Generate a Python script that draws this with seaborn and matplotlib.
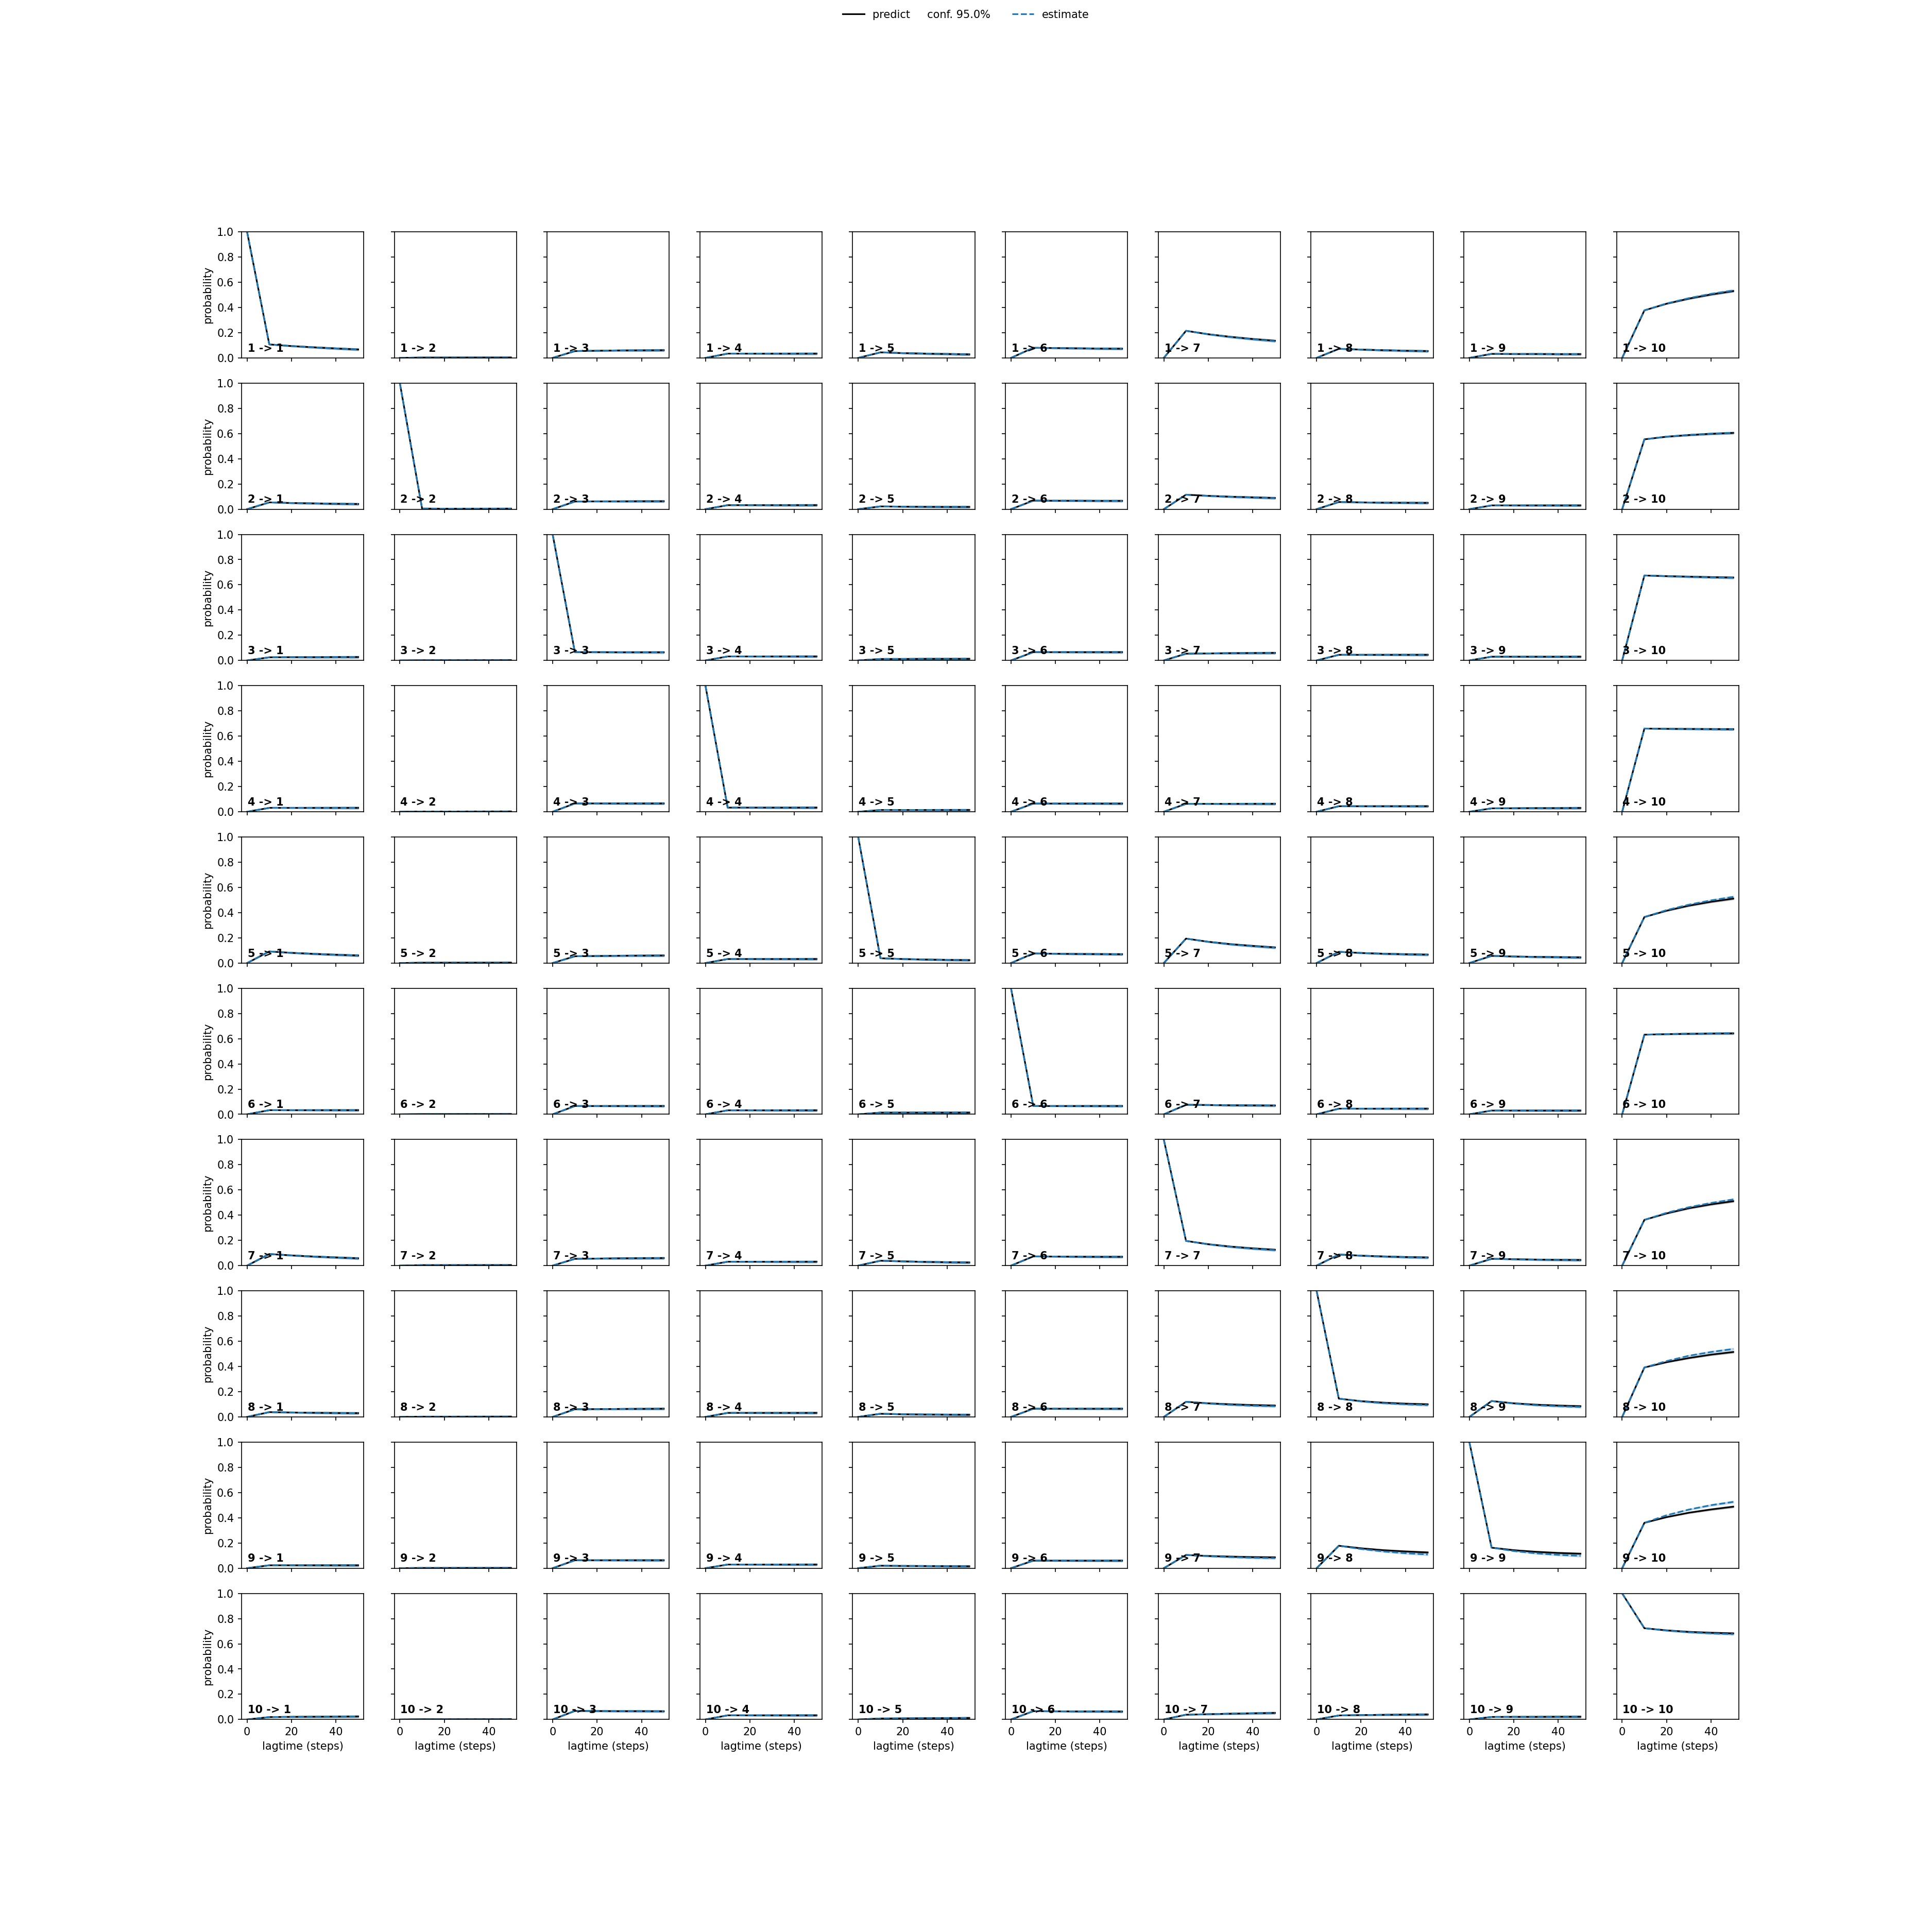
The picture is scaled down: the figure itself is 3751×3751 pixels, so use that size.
import matplotlib
matplotlib.use("Agg")
import matplotlib.pyplot as plt
import numpy as np
import seaborn as sns

# lag times (steps) at which the CK test was evaluated
lagtimes = [0, 10, 20, 30, 40, 50]

# predicted transition probabilities, one list per start state, one row per target state
pred_from_1 = [[1, 0.107, 0.094, 0.084, 0.075, 0.067], [0, 0.003, 0.003, 0.003, 0.003, 0.003],
               [0, 0.054, 0.057, 0.059, 0.060, 0.061], [0, 0.034, 0.034, 0.034, 0.034, 0.034],
               [0, 0.044, 0.038, 0.034, 0.031, 0.028], [0, 0.080, 0.078, 0.076, 0.074, 0.073],
               [0, 0.215, 0.188, 0.167, 0.150, 0.136], [0, 0.072, 0.066, 0.061, 0.057, 0.054],
               [0, 0.032, 0.031, 0.031, 0.030, 0.030], [0, 0.377, 0.430, 0.470, 0.503, 0.530]]
pred_from_2 = [[0, 0.054, 0.049, 0.046, 0.043, 0.041], [1, 0.005, 0.004, 0.004, 0.004, 0.004],
               [0, 0.061, 0.062, 0.062, 0.063, 0.063], [0, 0.032, 0.032, 0.032, 0.032, 0.032],
               [0, 0.022, 0.020, 0.019, 0.018, 0.018], [0, 0.068, 0.067, 0.067, 0.066, 0.066],
               [0, 0.115, 0.106, 0.099, 0.094, 0.089], [0, 0.057, 0.054, 0.052, 0.051, 0.050],
               [0, 0.030, 0.030, 0.030, 0.030, 0.030], [0, 0.554, 0.575, 0.588, 0.598, 0.605]]
pred_from_3 = [[0, 0.025, 0.026, 0.026, 0.027, 0.027], [0, 0.002, 0.002, 0.002, 0.002, 0.002],
               [1, 0.066, 0.066, 0.065, 0.065, 0.065], [0, 0.032, 0.032, 0.032, 0.032, 0.032],
               [0, 0.012, 0.012, 0.013, 0.013, 0.013], [0, 0.066, 0.066, 0.066, 0.066, 0.066],
               [0, 0.054, 0.056, 0.058, 0.059, 0.060], [0, 0.045, 0.045, 0.045, 0.045, 0.045],
               [0, 0.030, 0.030, 0.030, 0.030, 0.030], [0, 0.674, 0.669, 0.665, 0.661, 0.658]]
pred_from_4 = [[0, 0.031, 0.031, 0.031, 0.031, 0.031], [0, 0.002, 0.002, 0.002, 0.002, 0.002],
               [0, 0.066, 0.066, 0.066, 0.066, 0.066], [1, 0.033, 0.033, 0.033, 0.033, 0.033],
               [0, 0.014, 0.014, 0.014, 0.014, 0.014], [0, 0.065, 0.065, 0.065, 0.065, 0.065],
               [0, 0.063, 0.063, 0.063, 0.063, 0.063], [0, 0.044, 0.044, 0.044, 0.044, 0.044],
               [0, 0.027, 0.028, 0.029, 0.029, 0.030], [0, 0.660, 0.658, 0.657, 0.656, 0.655]]
pred_from_5 = [[0, 0.092, 0.081, 0.073, 0.066, 0.060], [0, 0.003, 0.003, 0.003, 0.003, 0.003],
               [0, 0.054, 0.056, 0.058, 0.059, 0.060], [0, 0.032, 0.032, 0.032, 0.032, 0.032],
               [1, 0.038, 0.032, 0.028, 0.025, 0.023], [0, 0.076, 0.074, 0.072, 0.071, 0.070],
               [0, 0.194, 0.169, 0.150, 0.136, 0.124], [0, 0.089, 0.080, 0.074, 0.070, 0.067],
               [0, 0.057, 0.052, 0.049, 0.047, 0.045], [0, 0.365, 0.415, 0.455, 0.486, 0.511]]
pred_from_6 = [[0, 0.033, 0.033, 0.033, 0.033, 0.033], [0, 0.002, 0.002, 0.002, 0.002, 0.002],
               [0, 0.066, 0.066, 0.066, 0.066, 0.066], [0, 0.032, 0.032, 0.032, 0.032, 0.032],
               [0, 0.014, 0.014, 0.014, 0.014, 0.014], [1, 0.066, 0.066, 0.066, 0.066, 0.066],
               [0, 0.076, 0.074, 0.072, 0.071, 0.070], [0, 0.045, 0.045, 0.045, 0.045, 0.045],
               [0, 0.030, 0.030, 0.030, 0.030, 0.030], [0, 0.632, 0.636, 0.639, 0.641, 0.642]]
pred_from_7 = [[0, 0.092, 0.081, 0.072, 0.065, 0.058], [0, 0.004, 0.004, 0.004, 0.004, 0.004],
               [0, 0.054, 0.056, 0.058, 0.059, 0.060], [0, 0.031, 0.031, 0.031, 0.031, 0.031],
               [0, 0.039, 0.034, 0.030, 0.027, 0.025], [0, 0.073, 0.072, 0.071, 0.070, 0.070],
               [1, 0.196, 0.170, 0.151, 0.137, 0.126], [0, 0.088, 0.079, 0.073, 0.068, 0.065],
               [0, 0.054, 0.051, 0.048, 0.046, 0.045], [0, 0.363, 0.414, 0.455, 0.486, 0.511]]
pred_from_8 = [[0, 0.038, 0.035, 0.033, 0.031, 0.030], [0, 0.002, 0.002, 0.002, 0.002, 0.002],
               [0, 0.061, 0.062, 0.063, 0.064, 0.065], [0, 0.032, 0.032, 0.032, 0.032, 0.032],
               [0, 0.025, 0.021, 0.019, 0.018, 0.017], [0, 0.065, 0.065, 0.065, 0.065, 0.065],
               [0, 0.120, 0.108, 0.100, 0.094, 0.090], [1, 0.145, 0.125, 0.113, 0.105, 0.100],
               [0, 0.126, 0.108, 0.097, 0.090, 0.085], [0, 0.392, 0.434, 0.467, 0.494, 0.515]]
pred_from_9 = [[0, 0.023, 0.023, 0.023, 0.023, 0.023], [0, 0.002, 0.002, 0.002, 0.002, 0.002],
               [0, 0.063, 0.063, 0.063, 0.063, 0.063], [0, 0.029, 0.029, 0.029, 0.029, 0.029],
               [0, 0.020, 0.018, 0.017, 0.016, 0.015], [0, 0.060, 0.060, 0.060, 0.060, 0.060],
               [0, 0.105, 0.097, 0.092, 0.088, 0.086], [0, 0.178, 0.158, 0.143, 0.133, 0.125],
               [1, 0.163, 0.143, 0.130, 0.121, 0.115], [0, 0.360, 0.405, 0.440, 0.466, 0.488]]
pred_from_10 = [[0, 0.019, 0.021, 0.022, 0.023, 0.024], [0, 0.002, 0.002, 0.002, 0.002, 0.002],
                [0, 0.068, 0.067, 0.066, 0.066, 0.065], [0, 0.033, 0.033, 0.033, 0.033, 0.033],
                [0, 0.008, 0.009, 0.010, 0.011, 0.012], [0, 0.066, 0.065, 0.064, 0.064, 0.063],
                [0, 0.038, 0.042, 0.046, 0.049, 0.052], [0, 0.032, 0.035, 0.037, 0.039, 0.040],
                [0, 0.020, 0.021, 0.021, 0.022, 0.022], [1, 0.724, 0.707, 0.695, 0.688, 0.683]]

# estimated transition probabilities (direct estimation at each lag time)
est_from_1 = [[1, 0.107, 0.094, 0.084, 0.075, 0.067], [0, 0.003, 0.003, 0.003, 0.003, 0.003],
              [0, 0.054, 0.057, 0.059, 0.060, 0.061], [0, 0.034, 0.034, 0.034, 0.034, 0.034],
              [0, 0.044, 0.038, 0.034, 0.031, 0.028], [0, 0.080, 0.078, 0.076, 0.074, 0.073],
              [0, 0.215, 0.187, 0.165, 0.148, 0.133], [0, 0.072, 0.066, 0.061, 0.057, 0.054],
              [0, 0.032, 0.031, 0.031, 0.030, 0.030], [0, 0.377, 0.432, 0.474, 0.508, 0.535]]
est_from_2 = [[0, 0.054, 0.049, 0.046, 0.043, 0.041], [1, 0.005, 0.004, 0.004, 0.004, 0.004],
              [0, 0.061, 0.062, 0.062, 0.063, 0.063], [0, 0.032, 0.032, 0.032, 0.032, 0.032],
              [0, 0.022, 0.020, 0.019, 0.018, 0.018], [0, 0.068, 0.067, 0.067, 0.066, 0.066],
              [0, 0.115, 0.105, 0.098, 0.093, 0.088], [0, 0.057, 0.054, 0.052, 0.051, 0.050],
              [0, 0.030, 0.030, 0.030, 0.030, 0.030], [0, 0.554, 0.576, 0.589, 0.599, 0.606]]
est_from_3 = [[0, 0.025, 0.026, 0.026, 0.027, 0.027], [0, 0.002, 0.002, 0.002, 0.002, 0.002],
              [1, 0.066, 0.066, 0.065, 0.065, 0.065], [0, 0.032, 0.032, 0.032, 0.032, 0.032],
              [0, 0.012, 0.012, 0.013, 0.013, 0.013], [0, 0.066, 0.066, 0.066, 0.066, 0.066],
              [0, 0.054, 0.056, 0.058, 0.059, 0.060], [0, 0.045, 0.045, 0.045, 0.045, 0.045],
              [0, 0.030, 0.030, 0.030, 0.030, 0.030], [0, 0.674, 0.668, 0.663, 0.659, 0.656]]
est_from_4 = [[0, 0.031, 0.031, 0.031, 0.031, 0.031], [0, 0.002, 0.002, 0.002, 0.002, 0.002],
              [0, 0.066, 0.066, 0.066, 0.066, 0.066], [1, 0.033, 0.033, 0.033, 0.033, 0.033],
              [0, 0.014, 0.014, 0.014, 0.014, 0.014], [0, 0.065, 0.065, 0.065, 0.065, 0.065],
              [0, 0.063, 0.063, 0.063, 0.063, 0.063], [0, 0.044, 0.044, 0.044, 0.044, 0.044],
              [0, 0.027, 0.028, 0.029, 0.029, 0.030], [0, 0.660, 0.658, 0.656, 0.655, 0.654]]
est_from_5 = [[0, 0.092, 0.081, 0.073, 0.066, 0.060], [0, 0.003, 0.003, 0.003, 0.003, 0.003],
              [0, 0.054, 0.056, 0.058, 0.059, 0.060], [0, 0.032, 0.032, 0.032, 0.032, 0.032],
              [1, 0.038, 0.032, 0.028, 0.025, 0.023], [0, 0.076, 0.074, 0.072, 0.071, 0.070],
              [0, 0.194, 0.168, 0.148, 0.134, 0.122], [0, 0.089, 0.080, 0.074, 0.069, 0.066],
              [0, 0.057, 0.052, 0.048, 0.046, 0.043], [0, 0.365, 0.420, 0.463, 0.497, 0.525]]
est_from_6 = [[0, 0.033, 0.033, 0.033, 0.033, 0.033], [0, 0.002, 0.002, 0.002, 0.002, 0.002],
              [0, 0.066, 0.066, 0.066, 0.066, 0.066], [0, 0.032, 0.032, 0.032, 0.032, 0.032],
              [0, 0.014, 0.014, 0.014, 0.014, 0.014], [1, 0.066, 0.066, 0.066, 0.066, 0.066],
              [0, 0.076, 0.074, 0.072, 0.071, 0.070], [0, 0.045, 0.045, 0.045, 0.045, 0.045],
              [0, 0.030, 0.030, 0.030, 0.030, 0.030], [0, 0.632, 0.637, 0.640, 0.642, 0.644]]
est_from_7 = [[0, 0.092, 0.081, 0.072, 0.065, 0.058], [0, 0.004, 0.004, 0.004, 0.004, 0.004],
              [0, 0.054, 0.056, 0.058, 0.059, 0.060], [0, 0.031, 0.031, 0.031, 0.031, 0.031],
              [0, 0.039, 0.034, 0.030, 0.027, 0.025], [0, 0.073, 0.072, 0.071, 0.070, 0.070],
              [1, 0.196, 0.169, 0.149, 0.134, 0.123], [0, 0.088, 0.079, 0.072, 0.067, 0.063],
              [0, 0.054, 0.050, 0.047, 0.045, 0.043], [0, 0.363, 0.419, 0.463, 0.497, 0.525]]
est_from_8 = [[0, 0.038, 0.035, 0.033, 0.031, 0.030], [0, 0.002, 0.002, 0.002, 0.002, 0.002],
              [0, 0.061, 0.062, 0.063, 0.064, 0.065], [0, 0.032, 0.032, 0.032, 0.032, 0.032],
              [0, 0.025, 0.021, 0.019, 0.018, 0.017], [0, 0.065, 0.065, 0.065, 0.065, 0.065],
              [0, 0.120, 0.106, 0.096, 0.089, 0.085], [1, 0.145, 0.123, 0.109, 0.100, 0.094],
              [0, 0.126, 0.106, 0.093, 0.085, 0.079], [0, 0.392, 0.443, 0.485, 0.515, 0.539]]
est_from_9 = [[0, 0.023, 0.023, 0.023, 0.023, 0.023], [0, 0.002, 0.002, 0.002, 0.002, 0.002],
              [0, 0.063, 0.063, 0.063, 0.063, 0.063], [0, 0.029, 0.029, 0.029, 0.029, 0.029],
              [0, 0.020, 0.018, 0.017, 0.016, 0.015], [0, 0.060, 0.060, 0.060, 0.060, 0.060],
              [0, 0.105, 0.095, 0.088, 0.083, 0.080], [0, 0.178, 0.152, 0.133, 0.119, 0.109],
              [1, 0.163, 0.136, 0.118, 0.106, 0.098], [0, 0.360, 0.420, 0.465, 0.500, 0.526]]
est_from_10 = [[0, 0.019, 0.021, 0.022, 0.023, 0.024], [0, 0.002, 0.002, 0.002, 0.002, 0.002],
               [0, 0.068, 0.067, 0.066, 0.066, 0.065], [0, 0.033, 0.033, 0.033, 0.033, 0.033],
               [0, 0.008, 0.009, 0.010, 0.011, 0.012], [0, 0.066, 0.065, 0.064, 0.064, 0.063],
               [0, 0.038, 0.042, 0.046, 0.049, 0.052], [0, 0.032, 0.035, 0.037, 0.039, 0.040],
               [0, 0.020, 0.021, 0.021, 0.022, 0.022], [1, 0.724, 0.705, 0.692, 0.683, 0.677]]

# rough half width of the 95% confidence bands (read from the shading)
conf_halfwidth = [0.0, 0.0, 0.003, 0.005, 0.006, 0.007]

predictions = [pred_from_1, pred_from_2, pred_from_3, pred_from_4, pred_from_5,
               pred_from_6, pred_from_7, pred_from_8, pred_from_9, pred_from_10]
estimates = [est_from_1, est_from_2, est_from_3, est_from_4, est_from_5,
             est_from_6, est_from_7, est_from_8, est_from_9, est_from_10]

nstates = len(predictions)
lags = np.array(lagtimes)
hw = np.array(conf_halfwidth)

fig, axes = plt.subplots(nstates, nstates, sharex=True, sharey=True, figsize=(25.007, 25.007))
fig.subplots_adjust(wspace=0.25, hspace=0.2)

for i in range(nstates):
    for j in range(nstates):
        ax = axes[i, j]
        p = np.array(predictions[i][j])
        e = np.array(estimates[i][j])
        sns.lineplot(x=lags, y=p, ax=ax, color="black", legend=False)
        ax.fill_between(lags, p - hw, p + hw, color="black", alpha=0.2)
        sns.lineplot(x=lags, y=e, ax=ax, color="C0", linestyle="dashed", legend=False)
        ax.fill_between(lags, e - hw, e + hw, color="C0", alpha=0.2)
        ax.text(0.05, 0.05, str(i + 1) + " -> " + str(j + 1), transform=ax.transAxes, weight="bold")
        ax.set_ylim(0, 1)
        if j == 0:
            ax.set_ylabel("probability")
        else:
            ax.set_ylabel("")
        if i == nstates - 1:
            ax.set_xlabel("lagtime (steps)")
        else:
            ax.set_xlabel("")

lpred = axes[0, 0].lines[0]
lest = axes[0, 0].lines[1]
fig.legend((lpred, lest), ("predict     conf. 95.0%", "estimate"), loc="upper center", ncol=2, frameon=False)

plt.savefig("out.png", dpi=150)
